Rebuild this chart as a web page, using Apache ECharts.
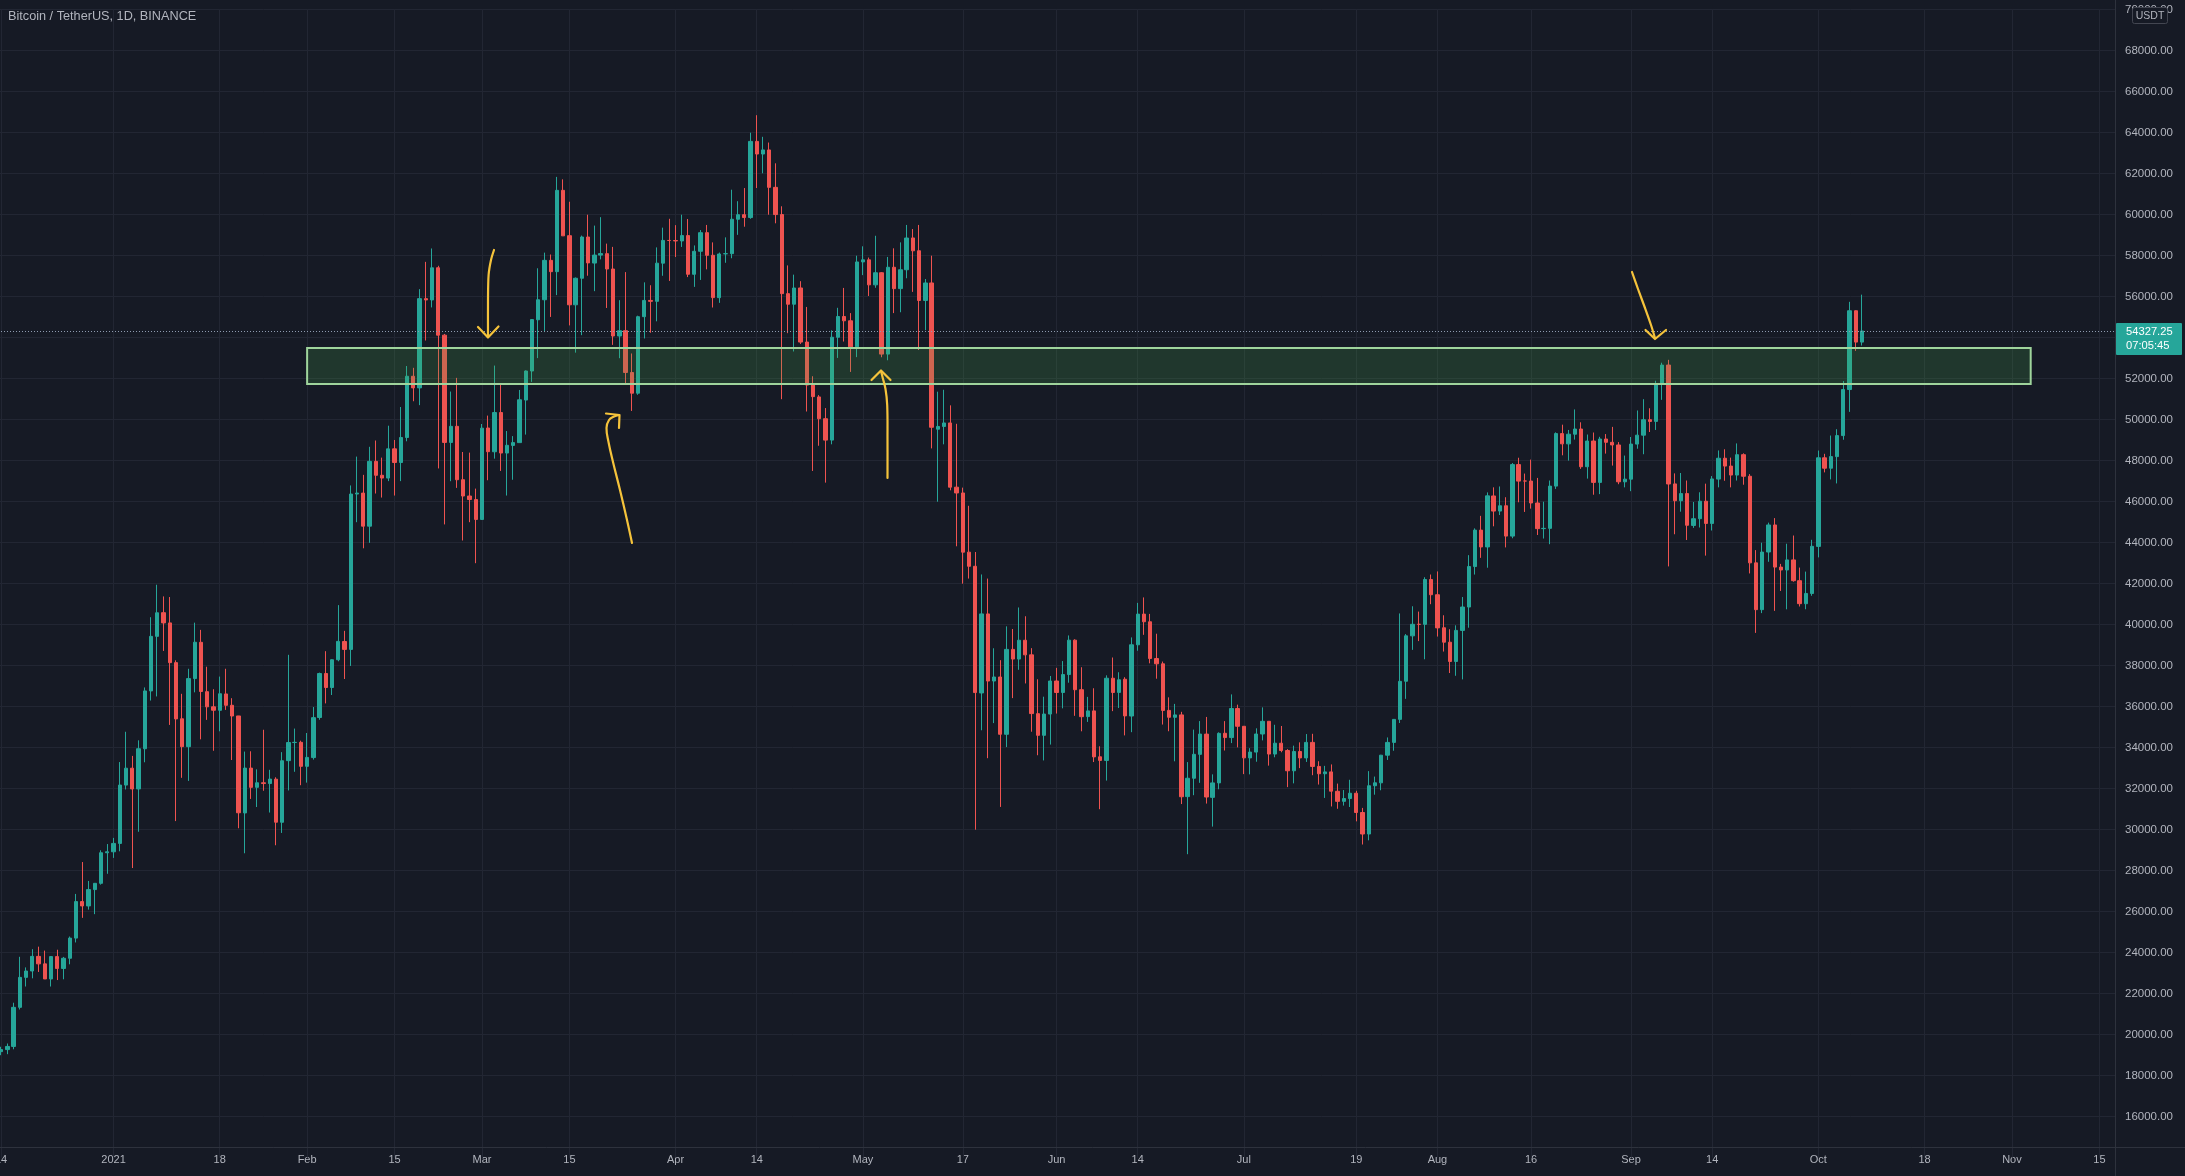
<!DOCTYPE html>
<html>
<head>
<meta charset="utf-8">
<script src="https://cdn.jsdelivr.net/npm/echarts/dist/echarts.min.js"></script>
<style>
html,body{margin:0;padding:0;background:#161a25;overflow:hidden}
#c{width:2185px;height:1176px}
</style>
</head>
<body>
<div id="c"></div>
<script>
// ---------- DATA (daily BTC/USDT, rows are [open, high, low, close]) ----------
const startDate = '2020-12-14';
const categoryCount = 339; // Dec 14 2020 .. Nov 17 2021 (axis extends into empty future)

const dec2020 = [
[19174,19411,19000,19273],[19273,19570,19050,19427],[19427,21560,19288,21335],[21335,23800,21230,22797],
[22797,23282,22350,23107],[23107,24171,22750,23821],[23821,24295,23060,23455],[23455,24102,22750,22719],
[22719,23837,22350,23810],[23810,24145,22666,23232],[23232,23794,22703,23729],[23729,24789,23433,24712],
[24712,26867,24500,26493],[26493,28422,25700,26281],[26281,27500,26101,27079],[27079,27400,25880,27385],
[27385,28996,27320,28875],[28875,29300,27850,28923]
];
const jan2021 = [
[28923,29600,28624,29331],[29331,33300,28946,32178],[32176,34778,31963,33000],[33000,33600,28130,31988],
[31989,34360,29900,33949],[33950,36939,33288,36769],[36769,40365,36300,39432],[39432,41950,36500,40582],
[40586,41380,38720,40088],[40088,41350,35111,38150],[38150,38264,30420,35404],[35410,36628,32531,34051],
[34050,37850,32380,37371],[37372,40100,36701,39144],[39141,39747,34408,36742],[36733,37950,35357,35994],
[35995,36852,33850,35828],[35824,37469,34800,36631],[36622,37850,35844,36069],[36069,36415,33400,35547],
[35548,35552,30071,30826],[30817,33811,28850,33005],[33005,33826,31500,32067],[32068,32944,31106,32289],
[32290,34875,31900,32252],[32252,32921,30837,32468],[32464,32557,29241,30366],[30362,33783,29842,33364],
[33368,38531,31915,34252],[34252,34933,32825,34262],[34262,34342,32171,33092]
];
const feb2021 = [
[33092,34717,32296,33526],[33518,35984,33418,35466],[35472,37662,35362,37618],[37620,38708,36161,36936],
[36936,38310,36570,38290],[38289,40955,38215,39186],[39181,39700,37351,38795],[38795,46794,37988,46374],
[46374,48200,45000,46420],[46420,47310,43727,44807],[44807,48678,43994,47969],[47969,48985,46400,47288],
[47288,48150,46202,47153],[47153,49707,47003,48577],[48577,49010,46300,47911],[47911,50620,47003,49133],
[49133,52618,48947,52119],[52119,52530,50901,51552],[51552,56368,50710,55906],[55906,57700,53863,55842],
[55842,58352,55477,57409],[57412,57508,47622,54124],[54124,54183,44892,48891],[48891,51374,47000,49676],
[49676,52041,46674,47073],[47073,48424,44108,46277],[46277,48394,45000,46106],[46104,46638,43000,45135]
];
const mar2021 = [
[45134,49790,45115,49587],[49595,50200,47047,48440],[48436,52640,48100,50349],[50349,51773,47500,48374],
[48374,49448,46300,48751],[48746,49200,47070,48882],[48882,51450,48882,50971],[50959,52402,49274,52375],
[52376,54895,51845,54884],[54875,57387,53005,55851],[55851,58150,54273,57773],[57773,58058,55013,57221],
[57222,61844,56078,61188],[61188,61724,58966,58968],[58976,60633,54600,55605],[55605,56938,53271,56900],
[56900,58981,54124,58912],[58912,60000,57023,57648],[57641,59468,56270,58030],[58030,59880,57820,58102],
[58100,58589,55450,57351],[57351,58430,53650,54083],[54083,55830,53000,54340],[54342,57200,51700,52303],
[52303,53230,50427,51293],[51293,55073,51214,55025],[55026,56700,53962,55818],[55818,56559,54242,55775],
[55775,58405,54800,57636],[57636,59368,57020,58746],[58745,59800,56769,58740]
];
const apr2021 = [
[58740,59490,57935,58720],[58720,60000,58428,58981],[58981,59791,56956,57094],[57094,58500,56478,58215],
[58216,59252,56817,59123],[59124,59500,57333,58019],[58020,58650,55473,55955],[55953,58153,55700,58083],
[58092,58894,57654,58100],[58100,61219,57875,59778],[59778,60659,59017,60000],[60000,61300,59413,59861],
[59861,64000,59800,63576],[63576,64854,61301,62960],[62960,63800,62020,63160],[63159,63520,60000,61334],
[61334,62506,59580,60006],[60007,60410,51000,56150],[56150,57526,54221,55633],[55634,57076,53329,56425],
[56426,56757,53696,53787],[53788,55500,50400,51690],[51690,52120,47500,51125],[51111,51200,48729,50047],
[50048,50567,46930,49004],[49005,54356,48800,54022],[54022,55458,53013,55034],[55034,56428,53813,54825],
[54825,55200,52330,53555],[53555,58000,53052,57695]
];
const may2021 = [
[57697,58458,57052,57798],[57798,57911,56035,56578],[56578,58972,56435,57169],[57169,57200,53046,53200],
[53200,57939,52900,57436],[57436,58360,55200,56393],[56394,58650,55241,57314],[57315,59500,56900,58862],
[58866,59300,56235,58240],[58241,59500,53400,55816],[55817,56862,54370,56670],[56670,58000,48600,49631],
[49537,51367,46000,49671],[49671,51459,48799,49841],[49842,50700,46555,46708],[46708,49800,43825,46426],
[46426,46686,42001,43538],[43538,45800,42250,42849],[42849,43546,30000,36690],[36671,42451,34850,40526],
[40526,42250,33488,37252],[37253,38850,35200,37449],[37449,38270,31111,34655],[34655,39920,34031,38796],
[38796,39791,36419,38324],[38324,40841,37800,39242],[39242,40412,37134,38529],[38529,38856,34779,35664],
[35661,37338,33632,34605],[34605,36488,33379,35641],[35641,37499,34153,37253]
];
const jun2021 = [
[37254,37894,35666,36693],[36694,38225,35920,37568],[37568,39476,37170,39246],[39246,39289,35555,36829],
[36829,37925,34800,35513],[35517,36480,35258,35796],[35796,36900,33300,33552],[33556,34068,31000,33380],
[33380,37530,32396,37389],[37389,38400,35783,36693],[36697,37680,35937,37313],[37340,37440,34600,35551],
[35546,39380,34757,39020],[39020,41064,38730,40516],[40516,41330,39506,40144],[40143,40527,38116,38349],
[38349,39560,37365,38092],[38092,38202,35129,35819],[35820,36457,34803,35484],[35483,36137,33336,35600],
[35600,35750,31251,31608],[31614,33298,28805,32509],[32510,34881,31683,33678],[33675,35298,32286,34664],
[34663,35500,31275,31594],[31577,32700,30151,32283],[32284,34749,31973,34700],[34703,35297,33862,34494],
[34494,36600,34225,35911],[35911,36100,34017,35045]
];
const jul2021 = [
[35045,35057,32711,33504],[33502,33977,32699,33786],[33786,34945,33316,34669],[34669,35967,34357,35287],
[35288,35293,33125,33690],[33690,35118,33532,34220],[34220,35059,33777,33863],[33863,33929,32077,32875],
[32875,34100,32261,33815],[33815,34262,33004,33502],[33502,34666,33306,34259],[34259,34678,32658,33086],
[33086,33340,32202,32729],[32730,33114,31550,32820],[32820,33185,31133,31880],[31874,32249,31020,31383],
[31383,31935,31176,31520],[31520,32435,31108,31779],[31779,31899,30407,30839],[30839,31063,29278,29790],
[29790,32858,29482,32144],[32144,32591,31708,32287],[32287,33650,31924,33634],[33635,34500,33401,34258],
[34259,35398,33851,35381],[35382,40550,35205,37237],[37242,39542,36383,39457],[39456,40900,38772,40019],
[40020,40640,39200,40016],[40018,42316,38313,42206],[42206,42448,41000,41461]
];
const aug2021 = [
[41461,42599,39422,39845],[39850,40460,38690,39147],[39146,39780,37642,38207],[38207,39969,37508,39723],
[39723,41350,37332,40862],[40862,43392,39853,42836],[42836,44700,42446,44614],[44614,45310,43261,43792],
[43794,46454,42779,46285],[46280,46700,44800,45543],[45543,46743,45351,45802],[45802,46218,43770,44322],
[44322,47886,44217,47810],[47810,48144,45971,47004],[47011,47372,45500,47007],[47007,48053,45662,45937],
[45937,47160,44376,44686],[44687,46000,44203,44700],[44700,47033,43927,46760],[46760,49382,46622,49323],
[49323,49757,48263,48821],[48821,49500,48004,49292],[49292,50500,49029,49546],[49546,49874,47600,47706],
[47706,49277,47126,48960],[48960,49375,46340,46942],[46942,49166,46370,49058],[49058,49300,48346,48897],
[48897,49650,47762,48767],[48767,48909,46853,46970],[46970,48250,46700,47100]
];
const sep2021 = [
[47100,49156,46513,48811],[48810,50450,48584,49246],[49246,51000,48316,49999],[50000,50558,49400,49915],
[49918,51900,49500,51756],[51756,52780,50969,52663],[52666,52920,42843,46864],[46868,47381,44412,46048],
[46048,47400,45513,46396],[46396,47033,44132,44851],[44842,45987,44722,45171],[45171,46460,44742,46025],
[46025,46880,43370,44940],[44940,47250,44594,47111],[47103,48500,46700,48121],[48121,48557,47021,47737],
[47737,48150,46699,47300],[47299,48843,47033,48293],[48294,48361,46829,47241],[47241,47347,42500,43016],
[43016,43639,39600,40734],[40734,44000,40565,43543],[43546,44978,43069,44865],[44865,45200,40675,42810],
[42810,42966,41646,42670],[42670,43950,40750,43160],[43160,44350,42098,42147],[42147,42787,40888,41026],
[41025,42590,40753,41524],[41524,44141,41410,43824]
];
const oct2021 = [
[43820,48495,43283,48141],[48141,48336,47430,47634],[47634,49228,47088,48200],[48200,49536,46891,49224],
[49224,51886,49022,51471],[51471,55750,50382,55315],[55315,55332,53357,53785],[53785,56100,53617,54327.25]
];

const lastPrice = 54327.25;
const countdown = '07:05:45';
const titleText = 'Bitcoin / TetherUS, 1D, BINANCE';

const tickLabels = [
['2020-12-14','14'],['2021-01-01','2021'],['2021-01-18','18'],['2021-02-01','Feb'],['2021-02-15','15'],
['2021-03-01','Mar'],['2021-03-15','15'],['2021-04-01','Apr'],['2021-04-14','14'],['2021-05-01','May'],
['2021-05-17','17'],['2021-06-01','Jun'],['2021-06-14','14'],['2021-07-01','Jul'],['2021-07-19','19'],
['2021-08-01','Aug'],['2021-08-16','16'],['2021-09-01','Sep'],['2021-09-14','14'],['2021-10-01','Oct'],
['2021-10-18','18'],['2021-11-01','Nov'],['2021-11-15','15']
];

const zoneFrom = '2021-02-01', zoneTo = '2021-11-04';
const zoneTop = 53500, zoneBottom = 51740;

const yMin = 14000, yMax = 70000, yStep = 2000;

// ---------- BUILD ----------
const BG = '#161a25', GRID = '#222633', TXT = '#b2b5be', UP = '#26a69a', DOWN = '#ef5350';
const FONT = "'Liberation Sans', Arial, sans-serif";
const ARROW = '#f5c33b';

function buildDates() {
  const p = startDate.split('-').map(Number);
  const d0 = Date.UTC(p[0], p[1] - 1, p[2]);
  const out = [];
  for (let i = 0; i < categoryCount; i++) out.push(new Date(d0 + i * 86400000).toISOString().slice(0, 10));
  return out;
}
const dates = buildDates();
const ohlc = [].concat(dec2020, jan2021, feb2021, mar2021, apr2021, may2021, jun2021, jul2021, aug2021, sep2021, oct2021);
const candleData = ohlc.map(r => [r[0], r[3], r[2], r[1]]);
const labelMap = {};
tickLabels.forEach(t => { labelMap[t[0]] = t[1]; });

const nTicks = (yMax - yMin) / yStep + 1;
const splitColors = [];
for (let i = 0; i < nTicks; i++) splitColors.push(i === 0 ? 'rgba(0,0,0,0)' : GRID);

const chart = echarts.init(document.getElementById('c'), null, {renderer: 'canvas'});

chart.setOption({
  backgroundColor: BG,
  animation: false,
  grid: {left: -2, right: 70, top: 9.7, bottom: 18.3, containLabel: false, outerBoundsMode: 'none'},
  xAxis: {
    type: 'category', data: dates, boundaryGap: true, offset: -11,
    axisLine: {show: false}, axisTick: {show: false}, splitLine: {show: false},
    axisLabel: {
      interval: (i, v) => labelMap[v] !== undefined,
      formatter: v => labelMap[v] || '',
      color: TXT, fontSize: 11, margin: 8, fontFamily: FONT
    }
  },
  yAxis: {
    type: 'value', position: 'right', min: yMin, max: yMax, interval: yStep,
    axisLine: {show: false}, axisTick: {show: false},
    axisLabel: {
      color: TXT, fontSize: 11.5, margin: 10, fontFamily: FONT,
      formatter: v => (v === yMin ? '' : v.toFixed(2))
    },
    splitLine: {show: true, lineStyle: {color: splitColors, width: 1}}
  },
  series: [
    {
      type: 'line', data: [], z: 1, silent: true,
      markLine: {
        z: 1, silent: true, symbol: ['none', 'none'], label: {show: false},
        lineStyle: {color: GRID, width: 1, type: 'solid'},
        emphasis: {disabled: true},
        data: tickLabels.map(t => ({xAxis: t[0]}))
      }
    },
    {
      type: 'candlestick', z: 3, data: candleData, barWidth: 3.8,
      itemStyle: {color: UP, color0: DOWN, borderColor: UP, borderColor0: DOWN, borderWidth: 1},
      emphasis: {disabled: true},
      markArea: {
        z: 4, silent: true,
        itemStyle: {color: 'rgba(76,175,80,0.2)', borderColor: '#9fd49c', borderWidth: 2},
        data: [[{xAxis: zoneFrom, yAxis: zoneTop}, {xAxis: zoneTo, yAxis: zoneBottom}]]
      },
      markLine: {
        silent: true, symbol: ['none', 'none'], label: {show: false},
        lineStyle: {color: '#8e9bb0', type: [1, 2], width: 1},
        emphasis: {disabled: true},
        data: [{yAxis: lastPrice}]
      }
    }
  ]
});

const py = chart.convertToPixel({yAxisIndex: 0}, lastPrice);

function poly(points, smooth) {
  return {type: 'polyline', z: 30, silent: true, shape: {points: points, smooth: smooth || 0},
    style: {stroke: ARROW, lineWidth: 2.2, fill: null, lineCap: 'round', lineJoin: 'round'}};
}

chart.setOption({
  graphic: [
    {type: 'text', z: 30, silent: true, style: {text: titleText, x: 8, y: 16, fill: TXT,
      font: '12.7px ' + FONT, textVerticalAlign: 'middle', verticalAlign: 'middle'}},
    {type: 'line', z: 25, silent: true, shape: {x1: 0, y1: 1147.5, x2: 2185, y2: 1147.5}, style: {stroke: '#2e323d', lineWidth: 1}},
    {type: 'line', z: 25, silent: true, shape: {x1: 2115.5, y1: 0, x2: 2115.5, y2: 1176}, style: {stroke: '#2e323d', lineWidth: 1}},
    // hand-drawn arrows
    poly([[494,250],[491,260],[488.6,275],[488,300],[488,337]], 0.3),
    poly([[478,327],[488,337.5],[498.5,326.5]]),
    poly([[632,543],[627,520],[620,490],[613,462],[608.5,442],[606.5,428],[609,420],[614,416.5],[619,415]], 0.4),
    poly([[606,413.5],[619.5,415],[619,428]]),
    poly([[887.5,478],[887.5,440],[887.2,405],[885.5,389],[882.5,377],[881,371]], 0.4),
    poly([[871.5,380],[881,370.5],[890.5,380]]),
    poly([[1632,272],[1638,289],[1645,308],[1651,325],[1655,338]], 0.3),
    poly([[1645.5,330],[1655,339],[1666,330]]),
    // USDT badge
    {type: 'rect', z: 40, silent: true, shape: {x: 2132.5, y: 7.5, width: 35, height: 16, r: 2},
      style: {fill: BG, stroke: '#434651', lineWidth: 1}},
    {type: 'text', z: 41, silent: true, style: {text: 'USDT', x: 2150, y: 15.8, fill: TXT, font: '10.5px ' + FONT,
      textAlign: 'center', align: 'center', textVerticalAlign: 'middle', verticalAlign: 'middle'}},
    // last price box
    {type: 'rect', z: 40, silent: true, shape: {x: 2116, y: py - 8, width: 66, height: 32, r: 1},
      style: {fill: UP}},
    {type: 'text', z: 41, silent: true, style: {text: lastPrice.toFixed(2), x: 2126, y: py + 1, fill: '#ffffff',
      font: '11.2px ' + FONT, textVerticalAlign: 'middle', verticalAlign: 'middle'}},
    {type: 'text', z: 41, silent: true, style: {text: countdown, x: 2126, y: py + 14.5, fill: '#ffffff',
      font: '11.2px ' + FONT, textVerticalAlign: 'middle', verticalAlign: 'middle'}}
  ]
});
</script>
</body>
</html>
